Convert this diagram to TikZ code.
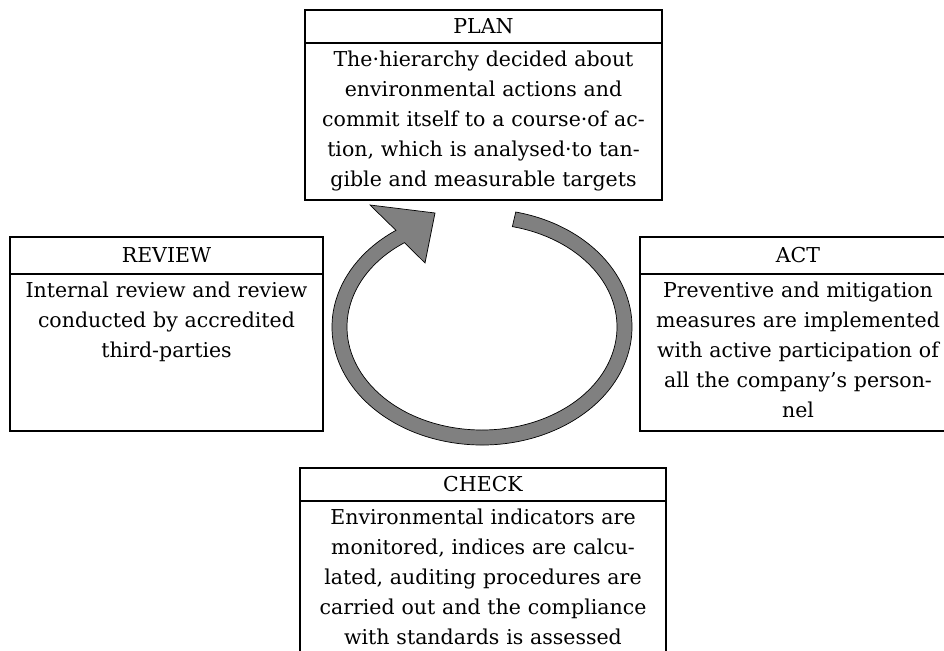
\documentclass[tikz,border=0pt]{standalone}
\usepackage{fontspec}
\setmainfont{DejaVu Serif}
\usetikzlibrary{positioning}

\begin{document}
\begin{tikzpicture}[
        x=1pt,
        y=1pt,
        font=\fontsize{20.5}{30}\selectfont,
        head/.style={
            rectangle,
            minimum height=33pt,
            inner sep=0pt,
            outer sep=0pt,
            text centered,
            line width=1.2pt,
            draw=black
        },
        body/.style={
            rectangle,
            align=center,
            inner xsep=0pt,
            inner ysep=7pt,
            outer sep=0pt,
            text height=17pt,
            text depth=126pt,
            line width=1.2pt,
            draw=black
        },
        loop/.style={
            draw=black,
            fill=black!50,
            line width=0.7pt
        }
    ]
        \useasboundingbox (0,0) rectangle (944,650);
        \clip (0,0) rectangle (944,650);

        \node (planhead) [head, minimum width=357pt, anchor=north] at (483.5,640) {PLAN};
        \node (planbody) [body, text width=357pt, below=0pt of planhead] {The·hierarchy decided about\\environmental actions and\\commit itself to a course·of ac-\\tion, which is analysed·to tan-\\gible and measurable targets};

        \node (reviewhead) [head, minimum width=313pt, minimum height=37pt, anchor=north] at (166.5,413) {REVIEW};
        \node (reviewbody) [body, text width=313pt, below=0pt of reviewhead] {Internal review and review\\conducted by accredited\\third-parties};

        \node (acthead) [head, minimum width=316pt, minimum height=37pt, anchor=north] at (798,413) {ACT};
        \node (actbody) [body, text width=316pt, below=0pt of acthead] {Preventive and mitigation\\measures are implemented\\with active participation of\\all the company’s person-\\nel};

        \node (checkhead) [head, minimum width=366pt, anchor=north] at (483,182) {CHECK};
        \node (checkbody) [body, text width=366pt, below=0pt of checkhead] {Environmental indicators are\\monitored, indices are calcu-\\lated, auditing procedures are\\carried out and the compliance\\with standards is assessed};

        \coordinate (hub) at (482,323);
        \filldraw [loop] ([shift={(77:150 and 118)}]hub)
            arc [start angle=77, end angle=-235, x radius=150, y radius=118]
            -- ([shift={(-112,122)}]hub) -- ([shift={(-47,114)}]hub) -- ([shift={(-57,64)}]hub)
            -- ([shift={(125:135 and 103)}]hub)
            arc [start angle=-235, end angle=77, x radius=135, y radius=103] -- cycle;

    \end{tikzpicture}
\end{document}
